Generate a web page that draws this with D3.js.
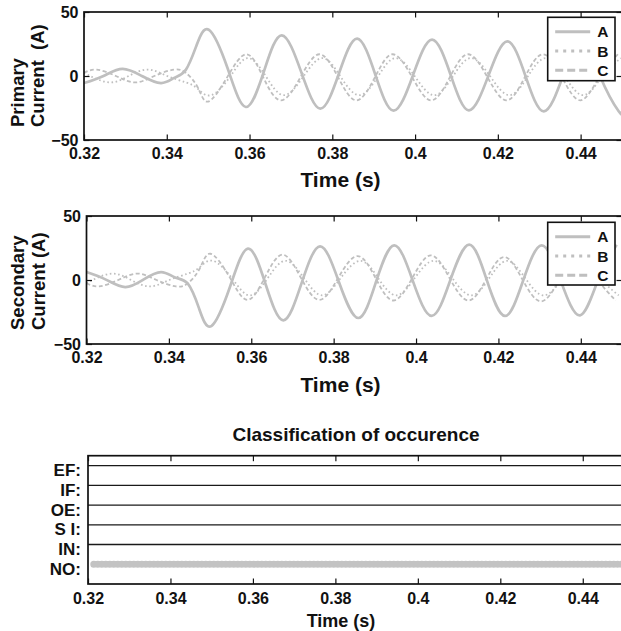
<!DOCTYPE html>
<html>
<head>
<meta charset="utf-8">
<script src="https://cdn.jsdelivr.net/npm/d3@7"></script>
<style>
  html, body { margin: 0; padding: 0; background: #fff; }
  svg { display: block; font-family: "Liberation Sans", Arial, Helvetica, sans-serif; font-weight: bold; }
</style>
</head>
<body>
<svg id="fig" width="621" height="631"></svg>
<script>
// ---------------- data ----------------
const timeTicks = [0.32, 0.34, 0.36, 0.38, 0.40, 0.42, 0.44];
const timeTickLabels = ["0.32", "0.34", "0.36", "0.38", "0.4", "0.42", "0.44"];
const currentTicks = [-50, 0, 50];
const phaseNames = ["A", "B", "C"];

// primary current, phase A/B/C (s, A)
const priTimeA = [0.3200,0.3247,0.3293,0.3340,0.3386,0.3418,0.3446,0.3472,0.3502,0.3547,0.3591,0.3635,0.3678,0.3725,0.3771,0.3816,0.3860,0.3904,0.3948,0.3995,0.4041,0.4086,0.4130,0.4177,0.4223,0.4267,0.4311,0.4357,0.4402,0.4447,0.4492,0.4500];
const priA     = [-5.5,0,5.5,0,-5.5,-1.5,4.8,24,36,6,-24.2,3.8,31.8,3,-25.5,1.9,29.2,1,-27.1,0.6,28.4,0.8,-26.8,0.1,27.1,-0.2,-27.6,-0.2,27.2,-0.2,-27.6,-27.3];
const priTimeB = [0.3200,0.3215,0.3262,0.3308,0.3355,0.3401,0.3446,0.3475,0.3507,0.3553,0.3596,0.3640,0.3683,0.3730,0.3776,0.3820,0.3865,0.3910,0.3953,0.4000,0.4046,0.4091,0.4135,0.4182,0.4228,0.4272,0.4316,0.4362,0.4407,0.4452,0.4497];
const priB     = [2.5,0,-5,0,5,0,-5,-10,-15,-0.5,14,-0.5,-15,-0.5,14,-0.5,-15,-0.5,14,-0.5,-15,-0.5,14,-0.5,-15,-0.5,14,-0.5,-15,-0.5,14];
const priTimeC = [0.3200,0.3231,0.3277,0.3324,0.3370,0.3417,0.3446,0.3475,0.3500,0.3545,0.3592,0.3633,0.3676,0.3723,0.3769,0.3814,0.3858,0.3903,0.3946,0.3993,0.4039,0.4084,0.4128,0.4175,0.4221,0.4265,0.4309,0.4355,0.4400,0.4445,0.4490];
const priC     = [2.5,5,0,-5,0,5,2.5,-9,-20,-1.5,17,-1,-19,-1,17,-1,-19,-1,17,-1,-19,-1,17,-1,-19,-1,17,-1,-19,-1,17];

// secondary current, phase A/B/C (s, A)
const secTimeA = [0.3200,0.3247,0.3294,0.3338,0.3381,0.3415,0.3446,0.3473,0.3503,0.3548,0.3592,0.3635,0.3678,0.3722,0.3767,0.3813,0.3860,0.3903,0.3947,0.3992,0.4038,0.4083,0.4129,0.4172,0.4216,0.4260,0.4305,0.4351,0.4398,0.4442,0.4487];
const secA     = [6.2,0.3,-5.5,0.3,6.2,2,-2.9,-22,-36,-5.7,24.5,-3.5,-31.5,-2.6,26.3,-1.7,-29.7,-1.3,27.1,-0.5,-28.1,-0.3,27.6,-0.3,-28.1,-0.5,27.1,-0.3,-27.6,0,27.5];
const secTimeB = [0.3200,0.3215,0.3262,0.3308,0.3355,0.3401,0.3446,0.3475,0.3507,0.3553,0.3596,0.3640,0.3683,0.3728,0.3772,0.3817,0.3865,0.3908,0.3952,0.3997,0.4043,0.4088,0.4134,0.4178,0.4221,0.4265,0.4310,0.4356,0.4403,0.4447,0.4492];
const secB     = [-2.5,0,5,0,-5,0,5,10,15,1.5,-12,1.5,15,1.5,-12,1.5,15,1.5,-12,1.5,15,1.5,-12,1.5,15,1.5,-12,1.5,15,1.5,-12];
const secTimeC = [0.3200,0.3231,0.3277,0.3324,0.3370,0.3417,0.3446,0.3475,0.3501,0.3546,0.3590,0.3633,0.3676,0.3720,0.3765,0.3811,0.3858,0.3902,0.3945,0.3991,0.4036,0.4081,0.4127,0.4171,0.4214,0.4258,0.4303,0.4349,0.4396,0.4440,0.4485];
const secC     = [-2.5,-5,0,5,0,-5,-2.5,9,20.5,3,-15.5,2,19.8,2,-15.5,1.6,18.7,1.4,-16,1.6,19.3,1.7,-16,1,18,0.6,-16.7,0.6,18,1,-16];

// classifier output
const classLabels = ["NO:", "IN:", "S I:", "OE:", "IF:", "EF:"];
const classLevels = [1, 2, 3, 4, 5, 6];
const outputClass = ["NO:"];
const outputStart = [0.3214];
const outputEnd   = [0.4500];

// ---------------- drawing ----------------
const svg = d3.select("#fig");
const GRAY = "#bfbfbf";
const INK = "#111";
const TICK = 5.5;
const seriesStyle = {
  A: { dash: null,        width: 2.7 },
  B: { dash: "1.6,2.6",   width: 1.8 },
  C: { dash: "4,2.5",     width: 1.8 }
};
const legendDash = { A: null, B: "3,5", C: "8,4" };

function pairs(t, v) { return t.map((d, i) => [d, v[i]]); }

function drawFrame(g, box) {
  g.append("rect")
    .attr("x", box.left).attr("y", box.top)
    .attr("width", box.right - box.left).attr("height", box.bottom - box.top)
    .attr("fill", "none").attr("stroke", INK).attr("stroke-width", 1.7);
}

function timeAxes(g, x, box, labelBaseline) {
  const bottom = g.append("g").attr("transform", `translate(0,${box.bottom})`)
    .call(d3.axisBottom(x).tickValues(timeTicks)
      .tickFormat((d, i) => timeTickLabels[i]).tickSize(-TICK).tickPadding(0));
  bottom.select(".domain").remove();
  bottom.selectAll(".tick line").attr("stroke", INK).attr("stroke-width", 1.2);
  bottom.selectAll(".tick text")
    .attr("y", labelBaseline - box.bottom).attr("dy", null)
    .attr("font-size", 16).attr("fill", INK)
    .attr("font-family", "Liberation Sans, Arial, sans-serif").attr("font-weight", "bold");
  const top = g.append("g").attr("transform", `translate(0,${box.top})`)
    .call(d3.axisTop(x).tickValues(timeTicks).tickFormat("").tickSize(-TICK));
  top.select(".domain").remove();
  top.selectAll(".tick line").attr("stroke", INK).attr("stroke-width", 1.2);
}

function currentPanel(cfg) {
  const box = cfg.box;
  const x = d3.scaleLinear().domain([0.32, 0.45]).range([box.left, box.right]);
  const y = d3.scaleLinear().domain([-50, 50]).range([box.bottom, box.top]);
  const g = svg.append("g");

  const clipId = cfg.id + "-clip";
  svg.append("clipPath").attr("id", clipId).append("rect")
    .attr("x", box.left).attr("y", box.top)
    .attr("width", box.right - box.left).attr("height", box.bottom - box.top);

  const line = d3.line().x(d => x(d[0])).y(d => y(d[1])).curve(d3.curveNatural);
  const plot = g.append("g").attr("clip-path", `url(#${clipId})`);
  // C (dashed) and B (dotted) first, A (solid) on top
  ["C", "B", "A"].forEach(name => {
    const s = cfg.series[name];
    plot.append("path")
      .datum(pairs(s.t, s.v))
      .attr("d", line)
      .attr("fill", "none")
      .attr("stroke", GRAY)
      .attr("stroke-width", seriesStyle[name].width)
      .attr("stroke-dasharray", seriesStyle[name].dash)
      .attr("stroke-linejoin", "round");
  });

  drawFrame(g, box);
  timeAxes(g, x, box, cfg.tickBaseline);

  const left = g.append("g").attr("transform", `translate(${box.left},0)`)
    .call(d3.axisLeft(y).tickValues(currentTicks).tickSize(-TICK).tickPadding(5.5));
  left.select(".domain").remove();
  left.selectAll(".tick line").attr("stroke", INK).attr("stroke-width", 1.2);
  left.selectAll(".tick text")
    .attr("font-size", 16).attr("fill", INK)
    .attr("font-family", "Liberation Sans, Arial, sans-serif").attr("font-weight", "bold");
  const right = g.append("g").attr("transform", `translate(${box.right},0)`)
    .call(d3.axisRight(y).tickValues(currentTicks).tickFormat("").tickSize(-TICK));
  right.select(".domain").remove();
  right.selectAll(".tick line").attr("stroke", INK).attr("stroke-width", 1.2);

  // y label, two lines
  cfg.ylabel.forEach((txt, i) => {
    g.append("text")
      .attr("transform", `translate(${cfg.ylabelX[i]},${cfg.ylabelStart}) rotate(-90)`)
      .attr("text-anchor", "start")
      .attr("font-size", 18.5)
      .attr("fill", INK)
      .style("white-space", "pre")
      .text(txt);
  });

  // x label
  g.append("text")
    .attr("x", 340.5).attr("y", cfg.xlabelBaseline)
    .attr("text-anchor", "middle").attr("font-size", 21).attr("fill", INK)
    .text("Time (s)");

  // legend
  const L = cfg.legend;
  const lg = g.append("g");
  lg.append("rect")
    .attr("x", L.x).attr("y", L.y).attr("width", L.w).attr("height", L.h)
    .attr("fill", "#fff").attr("stroke", INK).attr("stroke-width", 1.6);
  phaseNames.forEach((name, i) => {
    const yy = L.y + 14.5 + i * 19.2;
    lg.append("line")
      .attr("x1", L.x + 7.5).attr("x2", L.x + 42.5)
      .attr("y1", yy).attr("y2", yy)
      .attr("stroke", GRAY).attr("stroke-width", 3)
      .attr("stroke-dasharray", legendDash[name]);
    lg.append("text")
      .attr("x", L.x + 49.5).attr("y", yy + 5.5)
      .attr("font-size", 15.5).attr("fill", INK)
      .text(name);
  });
}

currentPanel({
  id: "primary",
  box: { left: 84, right: 622, top: 12, bottom: 140 },
  series: {
    A: { t: priTimeA, v: priA },
    B: { t: priTimeB, v: priB },
    C: { t: priTimeC, v: priC }
  },
  tickBaseline: 159,
  xlabelBaseline: 187,
  ylabel: ["Primary", "Current  (A)"],
  ylabelX: [24, 44],
  ylabelStart: 127,
  legend: { x: 547.7, y: 17.3, w: 67.3, h: 63.4 }
});

currentPanel({
  id: "secondary",
  box: { left: 86.5, right: 622, top: 216, bottom: 344 },
  series: {
    A: { t: secTimeA, v: secA },
    B: { t: secTimeB, v: secB },
    C: { t: secTimeC, v: secC }
  },
  tickBaseline: 363,
  xlabelBaseline: 392,
  ylabel: ["Secondary", "Current (A)"],
  ylabelX: [24, 45],
  ylabelStart: 330,
  legend: { x: 547.7, y: 222.3, w: 67.3, h: 62.7 }
});

// ---------- classification panel ----------
(function () {
  const box = { left: 88, right: 624, top: 455.7, bottom: 584 };
  const x = d3.scaleLinear().domain([0.32, 0.45]).range([box.left, box.right]);
  const y = d3.scaleLinear().domain([0, 6.5]).range([box.bottom, box.top]);
  const levelOf = d3.scaleOrdinal().domain(classLabels).range(classLevels);
  const g = svg.append("g");

  // one reference line per class level that is not the output class
  const active = outputClass.map(c => levelOf(c));
  g.append("g").selectAll("line")
    .data(classLevels.filter(l => !active.includes(l)))
    .join("line")
    .attr("x1", box.left).attr("x2", box.right)
    .attr("y1", d => y(d)).attr("y2", d => y(d))
    .attr("stroke", "#1a1a1a").attr("stroke-width", 1.3);

  // classifier output as a dense run of round markers
  g.append("g").selectAll("line")
    .data(outputClass.map((c, i) => ({ c, s: outputStart[i], e: outputEnd[i] })))
    .join("line")
    .attr("x1", d => x(d.s)).attr("x2", d => x(d.e))
    .attr("y1", d => y(levelOf(d.c))).attr("y2", d => y(levelOf(d.c)))
    .attr("stroke", "#c3c3c3").attr("stroke-width", 7)
    .attr("stroke-linecap", "round").attr("stroke-dasharray", "0,4");

  drawFrame(g, box);
  timeAxes(g, x, box, 604);

  const left = g.append("g").attr("transform", `translate(${box.left},0)`)
    .call(d3.axisLeft(y).tickValues(classLevels)
      .tickFormat((d, i) => classLabels[i]).tickSize(0).tickPadding(7));
  left.select(".domain").remove();
  left.selectAll(".tick text")
    .attr("dy", "0.6em")
    .attr("font-size", 17).attr("fill", INK)
    .attr("font-family", "Liberation Sans, Arial, sans-serif").attr("font-weight", "bold")
    .style("white-space", "pre");

  g.append("text")
    .attr("x", 356).attr("y", 441)
    .attr("text-anchor", "middle").attr("font-size", 19).attr("fill", INK)
    .text("Classification of occurence");

  g.append("text")
    .attr("x", 341).attr("y", 627)
    .attr("text-anchor", "middle").attr("font-size", 18).attr("fill", INK)
    .text("Time (s)");
})();
</script>
</body>
</html>
